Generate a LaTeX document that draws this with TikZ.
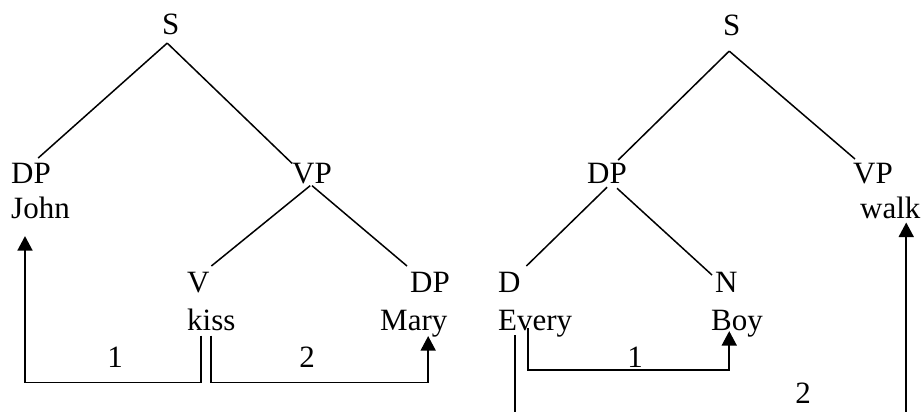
\documentclass[tikz,border=0pt]{standalone}
\usepackage{fontspec}
\setmainfont{Liberation Serif}
\usetikzlibrary{arrows.meta}
\begin{document}
\begin{tikzpicture}[x=1pt,y=-1pt,
  lbl/.style={inner sep=0pt, anchor=base west, font=\fontsize{31}{36}\selectfont},
  num/.style={lbl, anchor=base},
  branch/.style={line width=1.5pt},
  link/.style={line width=1.7pt, -{Triangle[length=14.5pt,width=15pt]}}]
\clip (0,0) rectangle (924,412);

% ---- tree for "John kiss Mary" ----
\node[lbl] (S1)   at (162,35)  {S};
\node[lbl] (DP1)  at (11,183)  {DP};
\node[lbl] (John) at (11,218)  {John};
\node[lbl] (VP1)  at (292,183) {VP};
\node[lbl] (V1)   at (187,292) {V};
\node[lbl] (kiss) at (187,330) {kiss};
\node[lbl] (DP2)  at (410,292) {DP};
\node[lbl] (Mary) at (380,330) {Mary};
\node[num] (argA) at (115,367) {1};
\node[num] (argB) at (307,367) {2};

\draw[branch] ([xshift=-3.6pt,yshift=-7.6pt]S1.south) -- ([xshift=7.2pt,yshift=4.5pt]DP1.north);
\draw[branch] ([xshift=-3.6pt,yshift=-7.6pt]S1.south) -- ([yshift=-0.8pt]VP1.north west);
\draw[branch] ([xshift=-1.8pt,yshift=-2pt]VP1.south) -- ([xshift=1.6pt,yshift=5.5pt]V1.north east);
\draw[branch] ([yshift=-2pt]VP1.south) -- ([xshift=-3pt,yshift=5.5pt]DP2.north west);

\draw[link] ([xshift=-10pt,yshift=-5pt]kiss.south) -- ++(0,47) -| ([xshift=14pt,yshift=-17.6pt]John.south west);
\draw[link] ([yshift=-5pt]kiss.south) -- ++(0,47) -| ([xshift=14.4pt,yshift=0.8pt]Mary.south);

% ---- tree for "Every Boy walk" ----
\node[lbl] (S2)    at (723,36)  {S};
\node[lbl] (DP3)   at (587,183) {DP};
\node[lbl] (VP2)   at (853,183) {VP};
\node[lbl] (walk)  at (860,218) {walk};
\node[lbl] (D)     at (498,292) {D};
\node[lbl] (N)     at (715,292) {N};
\node[lbl] (Every) at (498,330) {Every};
\node[lbl] (Boy)   at (711,330) {Boy};
\node[num] (argC)  at (635,367) {1};
\node[num] (argD)  at (803,403) {2};

\draw[branch] ([xshift=-2.6pt,yshift=-14.6pt]S2.south) -- ([xshift=11.2pt,yshift=2.5pt]DP3.north);
\draw[branch] ([xshift=-2.6pt,yshift=-14.6pt]S2.south) -- ([xshift=2pt,yshift=3.5pt]VP2.north west);
\draw[branch] ([yshift=-4pt]DP3.south) -- ([xshift=5.6pt,yshift=5.5pt]D.north east);
\draw[branch] ([xshift=10pt,yshift=-5pt]DP3.south) -- ([xshift=-3pt,yshift=-3.5pt]N.north west);

\draw[link] ([xshift=-7pt,yshift=8.8pt]Every.south) -- ++(0,42) -| ([xshift=-7.8pt,yshift=5.8pt]Boy.south);
\draw[link] ([xshift=17pt,yshift=1.8pt]Every.south west) -- ++(0,90) -| ([xshift=15.9pt,yshift=-4pt]walk.south);
\end{tikzpicture}
\end{document}
